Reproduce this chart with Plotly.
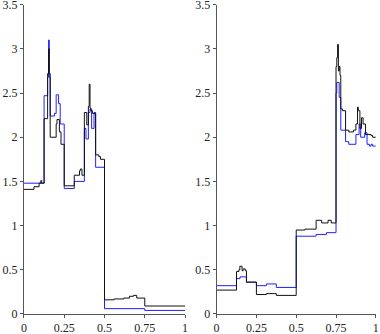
import plotly.graph_objects as go
from plotly.subplots import make_subplots

# left panel, step breakpoints (x) and levels (y)
left_black_x = [0, 0.0625, 0.094, 0.105, 0.11, 0.125, 0.147, 0.153, 0.157, 0.163, 0.2, 0.205, 0.22, 0.23, 0.25,
                0.3125, 0.345, 0.35, 0.36, 0.375, 0.39, 0.40, 0.405, 0.41, 0.415, 0.425, 0.445, 0.465, 0.475,
                0.5, 0.56, 0.62, 0.655, 0.68, 0.70, 0.75, 1]
left_black_y = [1.41, 1.44, 1.48, 1.51, 1.48, 2.21, 2.72, 3.0, 2.72, 2.0, 2.15, 2.2, 2.06, 1.92, 1.45,
                1.57, 1.62, 1.64, 1.57, 2.28, 2.14, 2.35, 2.6, 2.33, 2.3, 2.27, 1.8, 1.78, 1.75,
                0.16, 0.17, 0.18, 0.2, 0.21, 0.18, 0.09, 0.09]

left_blue_x = [0, 0.125, 0.147, 0.153, 0.157, 0.163, 0.19, 0.2, 0.215, 0.225, 0.25, 0.3125, 0.375,
               0.385, 0.40, 0.41, 0.42, 0.435, 0.445, 0.5, 0.75, 1]
left_blue_y = [1.48, 2.47, 2.68, 3.1, 2.68, 2.24, 2.27, 2.48, 2.38, 2.15, 1.42, 1.5, 2.1,
               1.98, 2.28, 2.32, 2.1, 2.28, 1.66, 0.06, 0.04, 0.04]

# right panel
right_black_x = [0, 0.125, 0.14, 0.146, 0.16, 0.167, 0.18, 0.1875, 0.25, 0.3125, 0.375, 0.5, 0.555,
                 0.625, 0.66, 0.7, 0.72, 0.75, 0.755, 0.76, 0.765, 0.77, 0.775, 0.78, 0.79, 0.81,
                 0.83, 0.86, 0.875, 0.885, 0.89, 0.9, 0.91, 0.92, 0.935, 0.97, 0.98, 1]
right_black_y = [0.27, 0.48, 0.5, 0.54, 0.49, 0.51, 0.49, 0.36, 0.22, 0.23, 0.21, 0.95, 0.96,
                 1.06, 1.03, 1.06, 1.03, 2.8, 2.9, 3.05, 2.75, 2.8, 2.7, 2.32, 2.3, 2.08,
                 2.06, 2.08, 2.15, 2.34, 2.3, 2.1, 2.22, 2.15, 2.03, 2.02, 2.0, 2.0]

right_blue_x = [0, 0.125, 0.147, 0.1875, 0.25, 0.3125, 0.375, 0.5, 0.625, 0.69, 0.75, 0.755, 0.77,
                0.78, 0.81, 0.83, 0.875, 0.895, 0.905, 0.93, 0.945, 0.96, 0.97, 0.98, 1]
right_blue_y = [0.32, 0.4, 0.42, 0.36, 0.32, 0.34, 0.3, 0.88, 0.9, 0.92, 2.5, 2.62, 2.45,
                2.08, 1.95, 1.92, 2.03, 2.15, 2.0, 2.05, 1.92, 1.9, 1.92, 1.9, 1.9]

x_ticks = [0, 0.25, 0.5, 0.75, 1]
x_labels = ['0', '0.25', '0.5', '0.75', '1']
y_ticks = [0, 0.5, 1, 1.5, 2, 2.5, 3, 3.5]
y_labels = ['0', '0.5', '1', '1.5', '2', '2.5', '3', '3.5']

fig = make_subplots(rows=1, cols=2)

for col, (bx, by, kx, ky) in enumerate([(left_blue_x, left_blue_y, left_black_x, left_black_y),
                                         (right_blue_x, right_blue_y, right_black_x, right_black_y)], start=1):
    fig.add_trace(go.Scatter(x=bx, y=by, mode='lines', line=dict(color='#2020ff', width=1, shape='hv'),
                             showlegend=False, cliponaxis=False), row=1, col=col)
    fig.add_trace(go.Scatter(x=kx, y=ky, mode='lines', line=dict(color='#111111', width=1, shape='hv'),
                             showlegend=False, cliponaxis=False), row=1, col=col)

axis_style = dict(showgrid=False, zeroline=False, showline=True, linecolor='#555555', linewidth=1,
                  ticks='outside', ticklen=3, tickcolor='#555555', automargin=False,
                  ticklabeloverflow='allow',
                  tickfont=dict(family='Liberation Serif, Times New Roman, serif', size=12, color='#222222'))

fig.update_xaxes(range=[0, 1], tickvals=x_ticks, ticktext=x_labels, **axis_style)
fig.update_yaxes(range=[0, 3.5], tickvals=y_ticks, ticktext=y_labels, **axis_style)
fig.update_layout(
    xaxis=dict(domain=[0.063, 0.487]),
    xaxis2=dict(domain=[0.570, 0.989]),
    yaxis=dict(domain=[0.060, 0.986]),
    yaxis2=dict(domain=[0.060, 0.986]),
    width=380, height=334, autosize=False,
    margin=dict(l=0, r=0, t=0, b=0, autoexpand=False),
    plot_bgcolor='white', paper_bgcolor='white',
    font=dict(family='Liberation Serif, Times New Roman, serif'),
)

# drop the default page margin so the figure sits at the window's corner
fig.write_html("out.html", config={'displayModeBar': False},
               post_script="document.body.style.margin='0';document.body.style.overflow='hidden';")
